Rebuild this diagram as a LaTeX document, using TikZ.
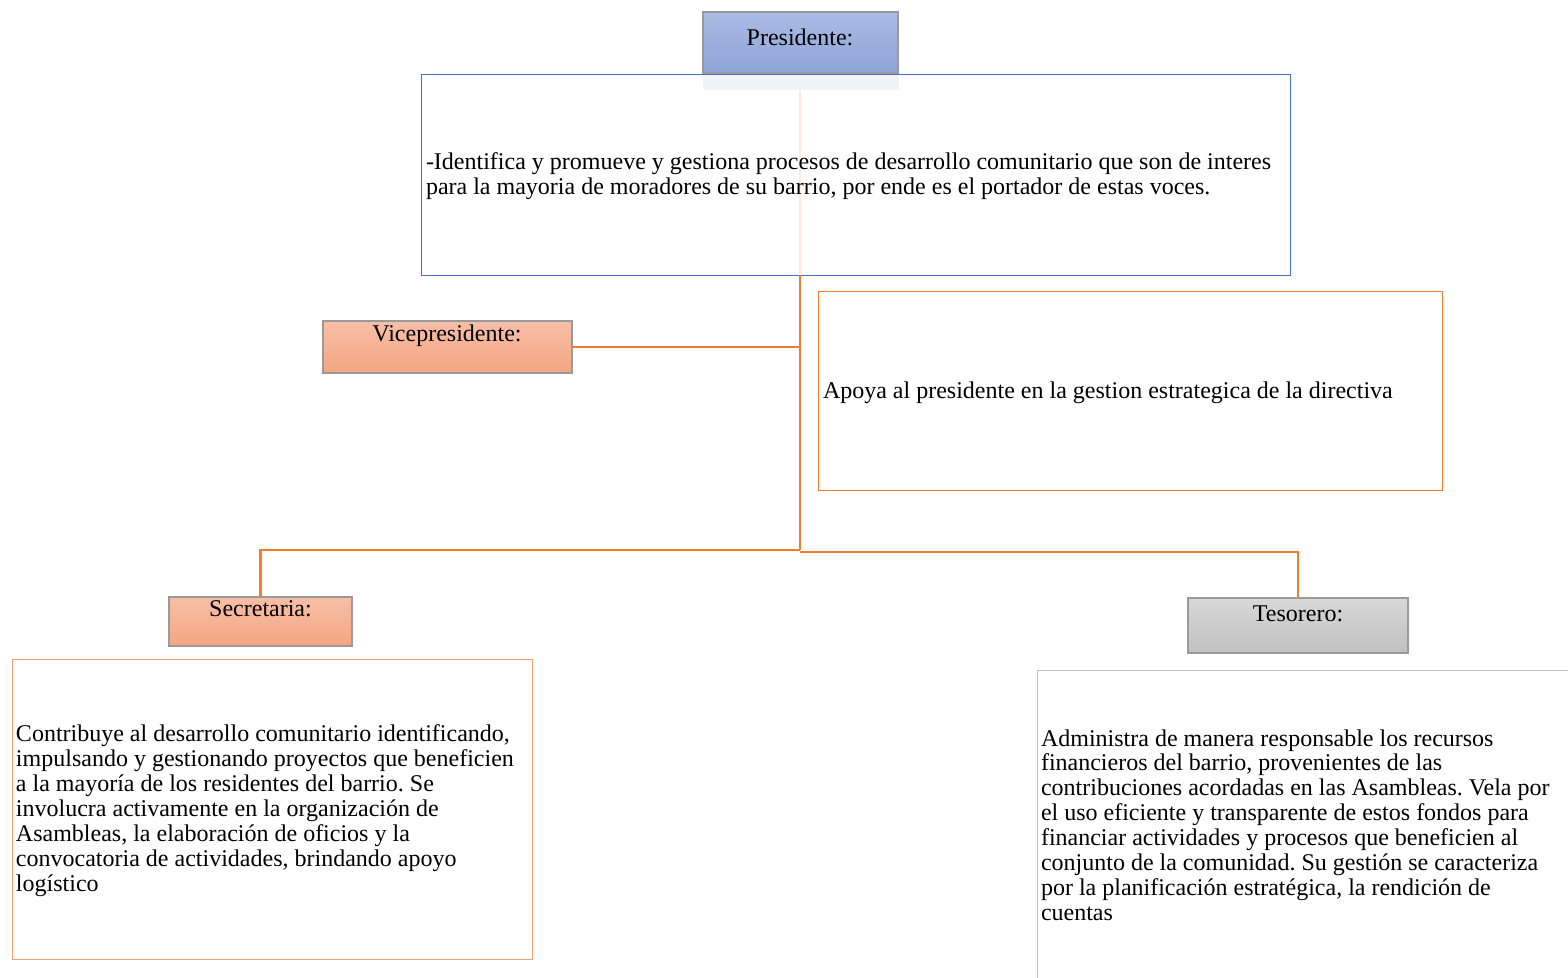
\documentclass[tikz,border=0pt]{standalone}
\usepackage{fontspec}
\setmainfont{Liberation Serif}
\frenchspacing
\definecolor{orgline}{HTML}{ED7D31}
\definecolor{bluebd}{HTML}{4472C4}
\definecolor{graybd}{HTML}{9A9A9A}
\definecolor{salmontop}{HTML}{F7BFA8}
\definecolor{salmonbot}{HTML}{F4A580}
\definecolor{bluetop}{HTML}{AABAE3}
\definecolor{bluebot}{HTML}{8EA4D8}
\definecolor{graytop}{HTML}{D8D8D8}
\definecolor{graybot}{HTML}{C0C0C0}
\begin{document}
\begin{tikzpicture}[x=1pt,y=-1pt,
  every node/.style={inner sep=0pt, outer sep=0pt},
  txt/.style={font=\fontsize{24}{24.85}\selectfont, align=left, anchor=base west},
  ttl/.style={font=\fontsize{24}{24.85}\selectfont, anchor=base},
  hdbox/.style={draw=graybd, line width=1.6pt, anchor=north west},
  bluehd/.style={hdbox, top color=bluetop, bottom color=bluebot},
  salmonhd/.style={hdbox, top color=salmontop, bottom color=salmonbot},
  grayhd/.style={hdbox, top color=graytop, bottom color=graybot},
  descbox/.style={anchor=north west, line width=0.9pt},
  conn/.style={draw=orgline, line width=2.8pt}]
\useasboundingbox (0,0) rectangle (1568,977);
\clip (0,0) rectangle (1568,977);

% Presidente
\node[bluehd, minimum width=195, minimum height=61] (pres) at (703,12) {};
\node[anchor=north west, fill={rgb,255:red,240;green,242;blue,248}, minimum width=196, minimum height=16] (presband) at (702.5,74) {};
\node[ttl] (prest) at (800,45.5) {Presidente:};
\coordinate (pf0) at (800,90);
\coordinate (t0) at (800,275);
\draw[draw={rgb,255:red,252;green,235;blue,222}, line width=2.4pt] (pf0) -- (t0);
\node[descbox, draw=bluebd, minimum width=869, minimum height=201] (pdesc) at (421,74) {};
\node[txt] (pdesct) at (426,194) {-Identifica y promueve y gestiona procesos de desarrollo comunitario que son de interes\\para la mayoria de moradores de su barrio, por ende es el portador de estas voces.};

% Vicepresidente
\node[salmonhd, minimum width=249, minimum height=52] (vice) at (323,321) {};
\node[ttl] (vicet) at (447,341) {Vicepresidente:};
\node[descbox, draw=orgline, minimum width=624, minimum height=199] (vdesc) at (818,291) {};
\node[txt] (vdesct) at (823,398) {Apoya al presidente en la gestion estrategica de la directiva};

% Secretaria
\node[salmonhd, minimum width=183, minimum height=49] (secr) at (169,597) {};
\node[ttl] (secrt) at (260.5,616) {Secretaria:};
\node[descbox, draw={rgb,255:red,241;green,160;blue,110}, minimum width=520, minimum height=300] (sdesc) at (12,659) {};
\node[txt] (sdesct) at (16,891) {Contribuye al desarrollo comunitario identificando,\\impulsando y gestionando proyectos que beneficien\\a la mayoría de los residentes del barrio. Se\\involucra activamente en la organización de\\Asambleas, la elaboración de oficios y la\\convocatoria de actividades, brindando apoyo\\logístico};

% Tesorero
\node[grayhd, minimum width=220, minimum height=55] (tes) at (1188,598) {};
\node[ttl] (test) at (1298,621) {Tesorero:};
\node[descbox, draw={rgb,255:red,190;green,190;blue,190}, minimum width=560, minimum height=340] (tdesc) at (1037,670) {};
\node[txt] (tdesct) at (1041,920) {Administra de manera responsable los recursos\\financieros del barrio, provenientes de las\\contribuciones acordadas en las Asambleas. Vela por\\el uso eficiente y transparente de estos fondos para\\financiar actividades y procesos que beneficien al\\conjunto de la comunidad. Su gestión se caracteriza\\por la planificación estratégica, la rendición de\\cuentas};

% connectors
\coordinate (jb) at (800,550);
\coordinate (jr) at (800,552);
\draw[conn] (t0) -- (jb);
\draw[conn] (vice.east) -- (vice.east -| t0);
\draw[conn] (jb) -| (secr.north);
\draw[conn] (jr) -| (tes.north);
\end{tikzpicture}
\end{document}
